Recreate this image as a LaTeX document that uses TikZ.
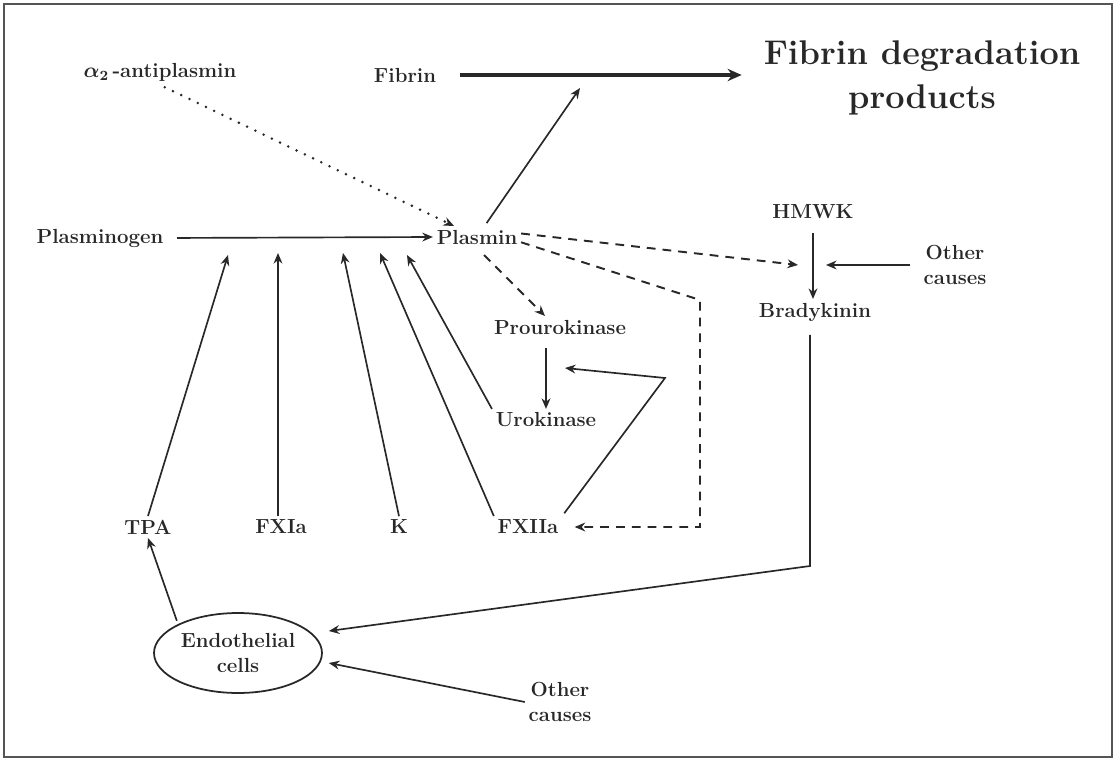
\documentclass[tikz,border=0pt]{standalone}
\usepackage{amsmath}
\usepackage{tikz}
\usetikzlibrary{arrows.meta,positioning,shapes.geometric}
\definecolor{inkgray}{RGB}{40,40,40}
\definecolor{framegray}{RGB}{85,85,85}
\tikzset{
  lbl/.style={font=\fontsize{11.6}{14.5}\selectfont\bfseries,text=inkgray,align=center,inner sep=2pt},
  titlelbl/.style={font=\fontsize{19.5}{25.5}\selectfont\bfseries,text=inkgray,align=center,inner sep=1pt},
  cellnode/.style={lbl,ellipse,draw=inkgray,line width=1pt,minimum width=3.36cm,minimum height=1.6cm,inner sep=0pt},
  arr/.style={-{Stealth[length=6pt,width=5pt]},line width=0.95pt,draw=inkgray},
  dasharr/.style={arr,line width=1.1pt,dash pattern=on 5pt off 4pt},
  dotarr/.style={arr,line width=1.6pt,dash pattern=on 0pt off 5.2pt,line cap=round},
  fatarr/.style={-{Stealth[length=8pt,width=7pt]},line width=2.3pt,draw=inkgray}
}

\begin{document}
\begin{tikzpicture}[x=0.02cm,y=-0.02cm]
  \useasboundingbox (0,0) rectangle (1117,761);
  %% Frame
  \draw[framegray,line width=1.4pt] (4,4) rectangle (1112,757);

  %% Top row
  \node[lbl] (anti) at (160,72) {{\boldmath$\alpha_2$}\,-antiplasmin};
  \node[lbl] (fibrin) at (405,75) {Fibrin};
  \node[titlelbl] (fdp) at (922,78) {Fibrin degradation\\products};

  %% Plasminogen activation
  \node[lbl] (plgn) at (100,238) {Plasminogen};
  \node[lbl] (plasmin) at (477,237) {Plasmin};
  \node[lbl] (prouk) at (560,327) {Prourokinase};
  \node[lbl] (uk) at (546,420) {Urokinase};

  %% Kinin side
  \node[lbl] (hmwk) at (813,212) {HMWK};
  \node[lbl] (bkin) at (815,312) {Bradykinin};
  \node[lbl] (othtop) at (955,265) {Other\\causes};

  %% Activators
  \node[lbl] (tpa) at (148,527) {TPA};
  \node[lbl] (fxia) at (281,527) {FXIa};
  \node[lbl] (kal) at (399,527) {K};
  \node[lbl] (fxiia) at (528,527) {FXIIa};

  %% Bottom
  \node[cellnode] (endo) at (238,653) {Endothelial\\cells};
  \node[lbl] (othbot) at (560,702) {Other\\causes};

  %% Free ends
  \coordinate (fibtip) at (580,88);
  \coordinate (ontpa) at (228,255);
  \coordinate (onfxia) at (278,253);
  \coordinate (onk) at (343,253);
  \coordinate (onfx12) at (380,253);
  \coordinate (onuk) at (407,255);
  \coordinate (bkmid) at (798,265);
  \coordinate (bkright) at (826,265);
  \coordinate (dashcorner) at (700,300);
  \coordinate (dashbottom) at (700,527);
  \coordinate (fxbend) at (665,378);
  \coordinate (ukin) at (565,368);
  \coordinate (bkcorner) at (810,566);

  %% Fibrinolysis
  \draw[fatarr,shorten <=0.4cm,shorten >=0.4cm] (fibrin.east) -- (fibrin.east -| fdp.west);
  \draw[arr,shorten <=2pt] (plasmin) -- (fibtip);
  \draw[dotarr,shorten <=3pt] (anti.south) -- (plasmin);
  \draw[arr,shorten <=0.2cm] (plgn.east) -- (plasmin.west);

  %% Plasmin feedback
  \draw[dasharr] ([yshift=2pt]plasmin.east) -- (bkmid);
  \draw[dasharr,shorten >=0.25cm] ([yshift=-3pt]plasmin.east) -- (dashcorner) -- (dashbottom) -- (fxiia.east);
  \draw[dasharr,shorten <=0.2cm] (plasmin.south) -- ([xshift=-0.3cm]prouk.north);
  \draw[arr,shorten <=0.2cm] (uk.north |- prouk.south) -- (uk.north);
  \draw[arr,shorten <=2pt] (fxiia.north east) -- (fxbend) -- (ukin);

  %% Activators of plasminogen
  \draw[arr] (tpa.north) -- (ontpa);
  \draw[arr] (onfxia |- fxia.north) -- (onfxia);
  \draw[arr] (kal.north) -- (onk);
  \draw[arr] (fxiia.north west) -- (onfx12);
  \draw[arr] (uk.north west) -- (onuk);

  %% Kinins and endothelium
  \draw[arr,shorten <=0.2cm] (hmwk.south) -- (hmwk.south |- bkin.north);
  \draw[arr,shorten <=0.2cm] (othtop.west |- bkright) -- (bkright);
  \draw[arr,shorten <=0.2cm] (bkcorner |- bkin.south) -- (bkcorner) -- ([shift={(6,-22)}]endo.east);
  \draw[arr] (othbot.west) -- ([shift={(6,10)}]endo.east);
  \draw[arr,shorten <=2pt] (endo.north west) -- (tpa.south);
\end{tikzpicture}
\end{document}
